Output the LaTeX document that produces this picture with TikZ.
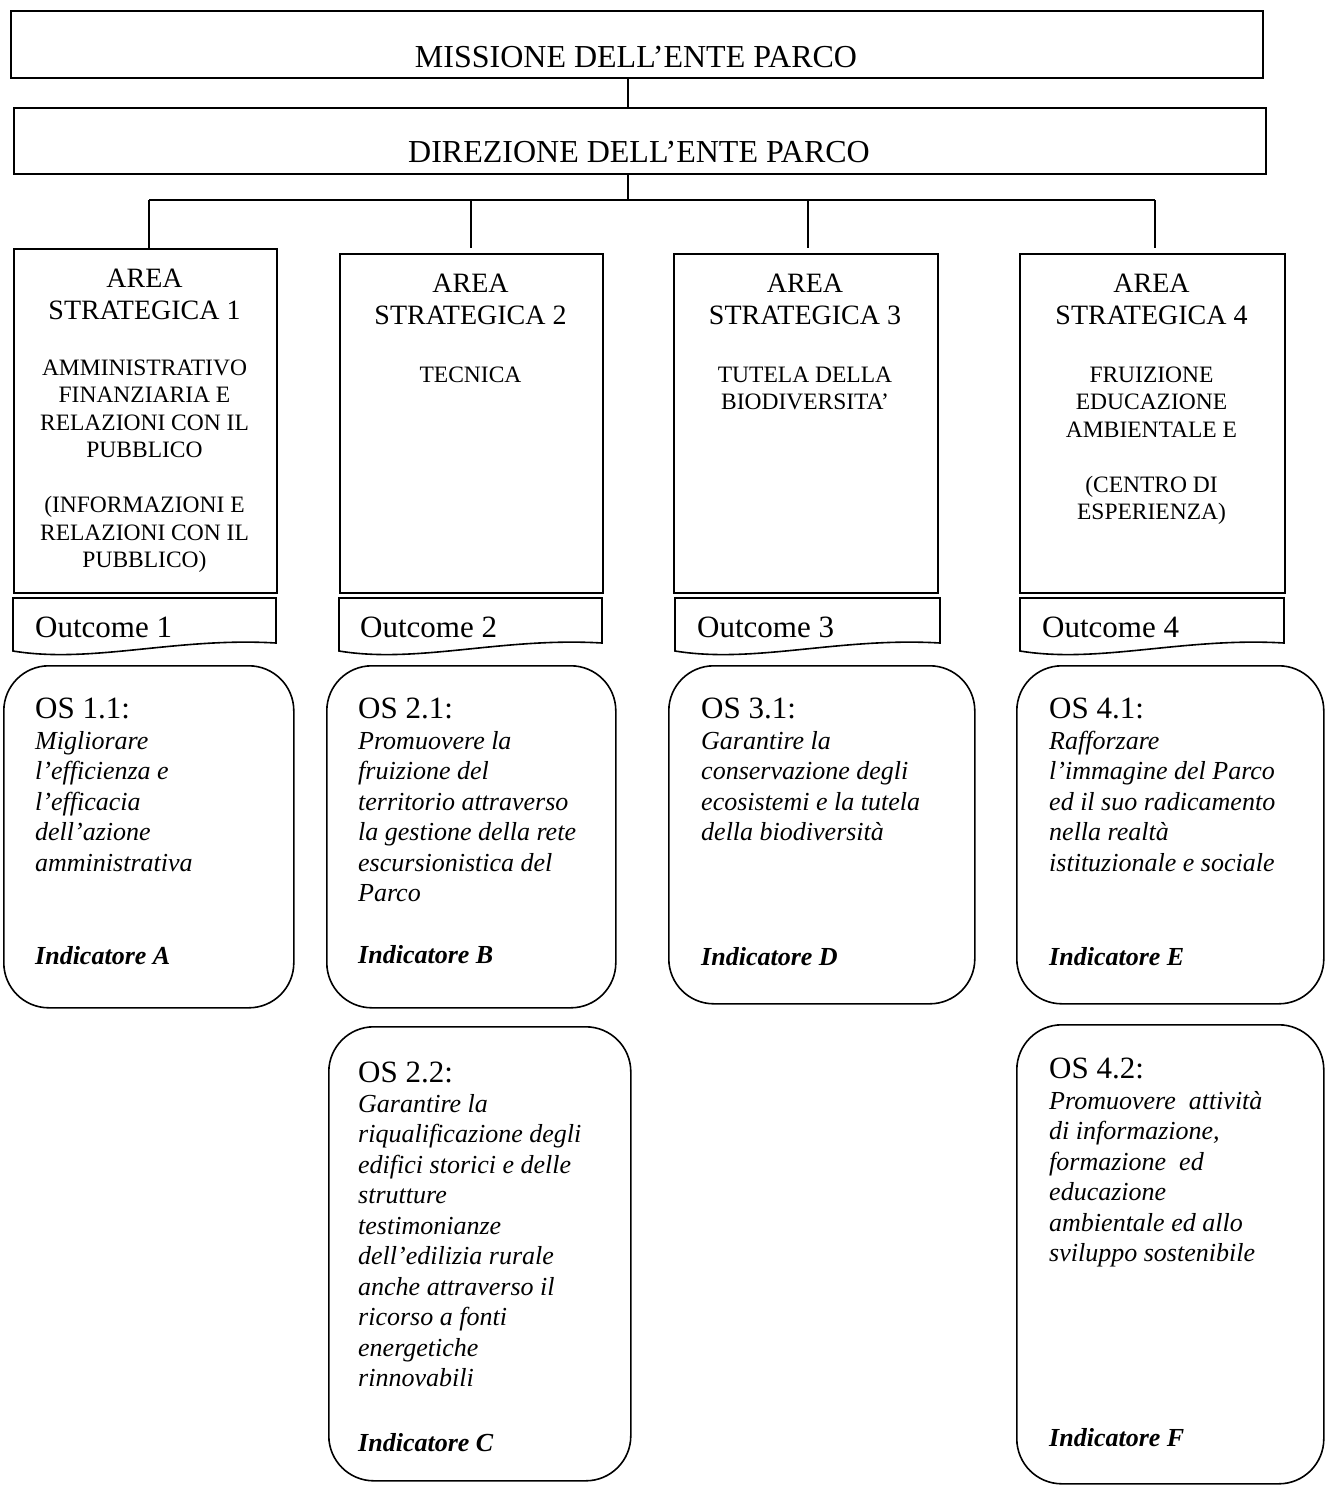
\documentclass[tikz,border=0pt]{standalone}
\usepackage{fontspec}
\setmainfont{Liberation Serif}
\usetikzlibrary{calc}
\tikzset{
  frame/.style={draw, line width=1.6pt, inner sep=0pt, anchor=north west},
  osbox/.style={frame, rounded corners=45pt},
  link/.style={line width=1.3pt},
  outline/.style={line width=1.6pt, line join=miter},
  bigtxt/.style={inner sep=0pt, anchor=base, font=\fontsize{32}{37}\selectfont},
  areahead/.style={inner sep=0pt, align=center, anchor=north, font=\fontsize{28}{32}\selectfont},
  areadesc/.style={inner sep=0pt, align=center, anchor=north, font=\fontsize{23.5}{27.5}\selectfont},
  outtxt/.style={inner sep=0pt, anchor=base west, font=\fontsize{31}{36}\selectfont},
  oshead/.style={inner sep=0pt, anchor=base west, font=\fontsize{31}{36}\selectfont},
  osbody/.style={inner sep=0pt, align=left, anchor=north west, font=\fontsize{26}{30.5}\selectfont\itshape},
  osind/.style={inner sep=0pt, anchor=base west, font=\fontsize{26}{30.5}\selectfont\bfseries\itshape}
}
\newcommand\outcomeshape[3]{%
  \draw[outline] (#1,598) coordinate (#3) -- (#1+#2,598) -- (#1+#2,643)
    .. controls (#1+0.62*#2,637) and (#1+0.3*#2,664) .. (#1,651) -- cycle;}
\begin{document}
\begin{tikzpicture}[x=1pt,y=-1pt]
\useasboundingbox (0,0) rectangle (1325,1486);

% top boxes
\node[frame, minimum width=1252pt, minimum height=67pt] (mis) at (10,10) {};
\node[bigtxt] (mist) at (636,67) {MISSIONE DELL’ENTE PARCO};
\node[frame, minimum width=1252pt, minimum height=66pt] (dir) at (13,107) {};
\node[bigtxt] (dirt) at (639,162) {DIREZIONE DELL’ENTE PARCO};

% trunk and bus
\coordinate (t) at (628,0);
\coordinate (b1) at (149,200);
\coordinate (b2) at (471,200);
\coordinate (b3) at (808,200);
\coordinate (b4) at (1155,200);
\draw[link] (t |- mis.south) -- (t |- dir.north);
\draw[link] (t |- dir.south) -- (t |- b1);
\draw[link] (b1) -- (b4);

% area boxes
\node[frame, minimum width=263pt, minimum height=344pt] (a1) at (13,248) {};
\node[frame, minimum width=263pt, minimum height=339pt] (a2) at (339,253) {};
\node[frame, minimum width=264pt, minimum height=339pt] (a3) at (673,253) {};
\node[frame, minimum width=265pt, minimum height=339pt] (a4) at (1019,253) {};

\draw[link] (b1) -- (b1 |- a1.north);
\draw[link] (b2) -- ($(b2 |- a2.north)+(0,-5)$);
\draw[link] (b3) -- ($(b3 |- a3.north)+(0,-5)$);
\draw[link] (b4) -- ($(b4 |- a4.north)+(0,-5)$);

\node[areahead] (a1h) at (144.5,264.6) {\strut AREA\\STRATEGICA 1};
\node[areahead] (a2h) at (470.5,269.6) {\strut AREA\\STRATEGICA 2};
\node[areahead] (a3h) at (805,269.6) {\strut AREA\\STRATEGICA 3};
\node[areahead] (a4h) at (1151.5,269.6) {\strut AREA\\STRATEGICA 4};

\node[areadesc] (a1d) at (144.5,355.75) {\strut AMMINISTRATIVO\\FINANZIARIA E\\RELAZIONI CON IL\\PUBBLICO\\[27.5pt](INFORMAZIONI E\\RELAZIONI CON IL\\PUBBLICO)};
\node[areadesc] (a2d) at (470.5,362.75) {\strut TECNICA};
\node[areadesc] (a3d) at (805,362.75) {\strut TUTELA DELLA\\BIODIVERSITA’};
\node[areadesc] (a4d) at (1151.5,362.75) {\strut FRUIZIONE\\EDUCAZIONE\\AMBIENTALE E\\[27.5pt](CENTRO DI\\ESPERIENZA)};

% outcomes
\outcomeshape{13}{263}{o1}
\outcomeshape{339}{263}{o2}
\outcomeshape{675}{265}{o3}
\outcomeshape{1020}{264}{o4}
\node[outtxt] (o1t) at (35,637) {Outcome 1};
\node[outtxt] (o2t) at (360,637) {Outcome 2};
\node[outtxt] (o3t) at (697,637) {Outcome 3};
\node[outtxt] (o4t) at (1042,637) {Outcome 4};

% OS boxes
\node[osbox, minimum width=290pt, minimum height=342pt] (s11) at (3,665) {};
\node[osbox, minimum width=289pt, minimum height=342pt] (s21) at (326,665) {};
\node[osbox, minimum width=306pt, minimum height=338pt] (s31) at (668,665) {};
\node[osbox, minimum width=307pt, minimum height=338pt] (s41) at (1016,665) {};
\node[osbox, minimum width=302pt, minimum height=454pt] (s22) at (328,1026) {};
\node[osbox, minimum width=307pt, minimum height=459pt] (s42) at (1016,1024) {};

\node[oshead] (s11h) at (35,718) {OS 1.1:};
\node[osbody] (s11b) at (35,727.65) {\strut Migliorare\\l’efficienza e\\l’efficacia\\dell’azione\\amministrativa};
\node[osind] (s11i) at (35,964) {Indicatore A};

\node[oshead] (s21h) at (358,718) {OS 2.1:};
\node[osbody] (s21b) at (358,727.65) {\strut Promuovere la\\fruizione del\\territorio attraverso\\la gestione della rete\\escursionistica del\\Parco};
\node[osind] (s21i) at (358,963) {Indicatore B};

\node[oshead] (s31h) at (701,718) {OS 3.1:};
\node[osbody] (s31b) at (701,727.65) {\strut Garantire la\\conservazione degli\\ecosistemi e la tutela\\della biodiversità};
\node[osind] (s31i) at (701,965) {Indicatore D};

\node[oshead] (s41h) at (1049,718) {OS 4.1:};
\node[osbody] (s41b) at (1049,727.65) {\strut Rafforzare\\l’immagine del Parco\\ed il suo radicamento\\nella realtà\\istituzionale e sociale};
\node[osind] (s41i) at (1049,965) {Indicatore E};

\node[oshead] (s22h) at (358,1082) {OS 2.2:};
\node[osbody] (s22b) at (358,1090.65) {\strut Garantire la\\riqualificazione degli\\edifici storici e delle\\strutture\\testimonianze\\dell’edilizia rurale\\anche attraverso il\\ricorso a fonti\\energetiche\\rinnovabili};
\node[osind] (s22i) at (358,1451) {Indicatore C};

\node[oshead] (s42h) at (1049,1078) {OS 4.2:};
\node[osbody] (s42b) at (1049,1087.65) {\strut Promuovere~ attività\\di informazione,\\formazione~ ed\\educazione\\ambientale ed allo\\sviluppo sostenibile};
\node[osind] (s42i) at (1049,1446) {Indicatore F};
\end{tikzpicture}
\end{document}
